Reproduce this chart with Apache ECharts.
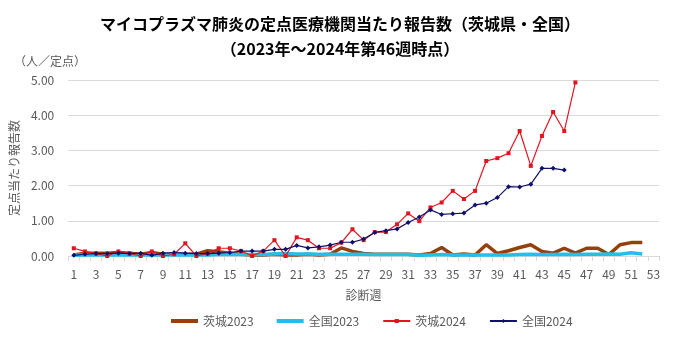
<!DOCTYPE html>
<html><head><meta charset="utf-8">
<script src="https://cdn.jsdelivr.net/npm/echarts@6/dist/echarts.min.js"></script>
<style>html,body{margin:0;padding:0;background:#fff}#c{width:680px;height:340px}</style>
</head><body><div id="c"></div>
<script>
const weeks = Array.from({length: 53}, (_, i) => String(i + 1));
const ibaraki2023 = [0.03,0.08,0.08,0.08,0.10,0.08,0.05,0.10,0.05,0.05,0.05,0.05,0.15,0.12,0.08,0.05,0.03,0.03,0.05,0.03,0.03,0.05,0.03,0.05,0.23,0.13,0.07,0.05,0.05,0.05,0.05,0.03,0.07,0.24,0.03,0.06,0.03,0.32,0.07,0.15,0.24,0.32,0.13,0.08,0.22,0.08,0.22,0.22,0.04,0.32,0.38,0.38];
const zenkoku2023 = [0.02,0.03,0.03,0.03,0.03,0.03,0.03,0.03,0.03,0.03,0.03,0.03,0.03,0.04,0.04,0.04,0.04,0.04,0.06,0.07,0.06,0.06,0.05,0.05,0.05,0.05,0.05,0.04,0.04,0.04,0.04,0.02,0.03,0.04,0.03,0.03,0.03,0.03,0.03,0.03,0.04,0.05,0.04,0.04,0.05,0.04,0.05,0.05,0.06,0.05,0.09,0.06];
const ibaraki2024 = [0.22,0.13,0.07,0.00,0.13,0.07,0.00,0.13,0.00,0.05,0.36,0.00,0.07,0.22,0.22,0.14,0.00,0.14,0.45,0.00,0.53,0.45,0.22,0.22,0.38,0.76,0.45,0.68,0.68,0.90,1.21,0.99,1.38,1.52,1.85,1.62,1.85,2.70,2.78,2.92,3.55,2.56,3.41,4.09,3.55,4.93];
const zenkoku2024 = [0.02,0.05,0.07,0.07,0.08,0.07,0.08,0.02,0.08,0.10,0.08,0.07,0.07,0.08,0.10,0.14,0.14,0.14,0.19,0.19,0.30,0.23,0.26,0.31,0.39,0.39,0.48,0.67,0.72,0.77,0.95,1.11,1.31,1.18,1.20,1.22,1.45,1.50,1.66,1.97,1.96,2.04,2.49,2.49,2.44];
const seriesNames = ['茨城2023','全国2023','茨城2024','全国2024'];
const titleLine1 = 'マイコプラズマ肺炎の定点医療機関当たり報告数（茨城県・全国）';
const titleLine2 = '（2023年～2024年第46週時点）';

const FONT = '"Noto Sans CJK JP", sans-serif';
const GRAY = '#595959';
const chart = echarts.init(document.getElementById('c'), null, {renderer: 'canvas'});
chart.setOption({
  animation: false,
  textStyle: {fontFamily: FONT},
  title: [
    {text: titleLine1, left: 'center', top: 11, textStyle: {fontFamily: FONT, fontSize: 16, fontWeight: 'bold', color: '#000'}},
    {text: titleLine2, left: 'center', top: 36, textStyle: {fontFamily: FONT, fontSize: 16, fontWeight: 'bold', color: '#000'}}
  ],
  graphic: [{type: 'text', left: 14, top: 55, style: {text: '（人／定点）', fontFamily: FONT, fontSize: 12, fill: GRAY}}],
  grid: {left: 68, right: 21, top: 80, bottom: 84},
  legend: {
    bottom: 8, left: 166, itemGap: 23, itemWidth: 27, itemHeight: 5,
    textStyle: {fontFamily: FONT, fontSize: 12, color: GRAY},
    data: [
      {name: seriesNames[0], icon: 'path://M0,0 L27,0 L27,4 L0,4 Z'},
      {name: seriesNames[1], icon: 'path://M0,0 L27,0 L27,4 L0,4 Z'},
      {name: seriesNames[2]},
      {name: seriesNames[3]}
    ]
  },
  xAxis: {
    type: 'category', data: weeks, boundaryGap: true,
    name: '診断週', nameLocation: 'middle', nameGap: 33,
    nameTextStyle: {fontFamily: FONT, fontSize: 12, color: GRAY},
    axisLine: {lineStyle: {color: '#d9d9d9'}},
    axisTick: {show: true, interval: 0, length: 5, lineStyle: {color: '#d9d9d9'}},
    axisLabel: {interval: 1, color: GRAY, fontSize: 12, margin: 12, fontFamily: FONT}
  },
  yAxis: {
    type: 'value', min: 0, max: 5, interval: 1,
    name: '定点当たり報告数', nameLocation: 'middle', nameGap: 46, nameRotate: 90,
    nameTextStyle: {fontFamily: FONT, fontSize: 12, color: GRAY},
    axisLine: {show: false}, axisTick: {show: false},
    splitLine: {lineStyle: {color: '#d9d9d9'}},
    axisLabel: {color: GRAY, fontSize: 12, margin: 14, fontFamily: FONT, formatter: v => v.toFixed(2)}
  },
  series: [
    {name: seriesNames[0], type: 'line', data: ibaraki2023, showSymbol: false, symbol: 'none',
     lineStyle: {width: 3.5, color: '#963f0c'}, itemStyle: {color: '#963f0c'}},
    {name: seriesNames[1], type: 'line', data: zenkoku2023, showSymbol: false, symbol: 'none',
     lineStyle: {width: 3.5, color: '#22bfea'}, itemStyle: {color: '#22bfea'}},
    {name: seriesNames[2], type: 'line', data: ibaraki2024, symbol: 'rect', symbolSize: 4,
     lineStyle: {width: 1.2, color: '#e3141f'}, itemStyle: {color: '#e3141f'}},
    {name: seriesNames[3], type: 'line', data: zenkoku2024, symbol: 'diamond', symbolSize: 5,
     lineStyle: {width: 1.2, color: '#10106b'}, itemStyle: {color: '#10106b'}}
  ]
});
</script></body></html>
